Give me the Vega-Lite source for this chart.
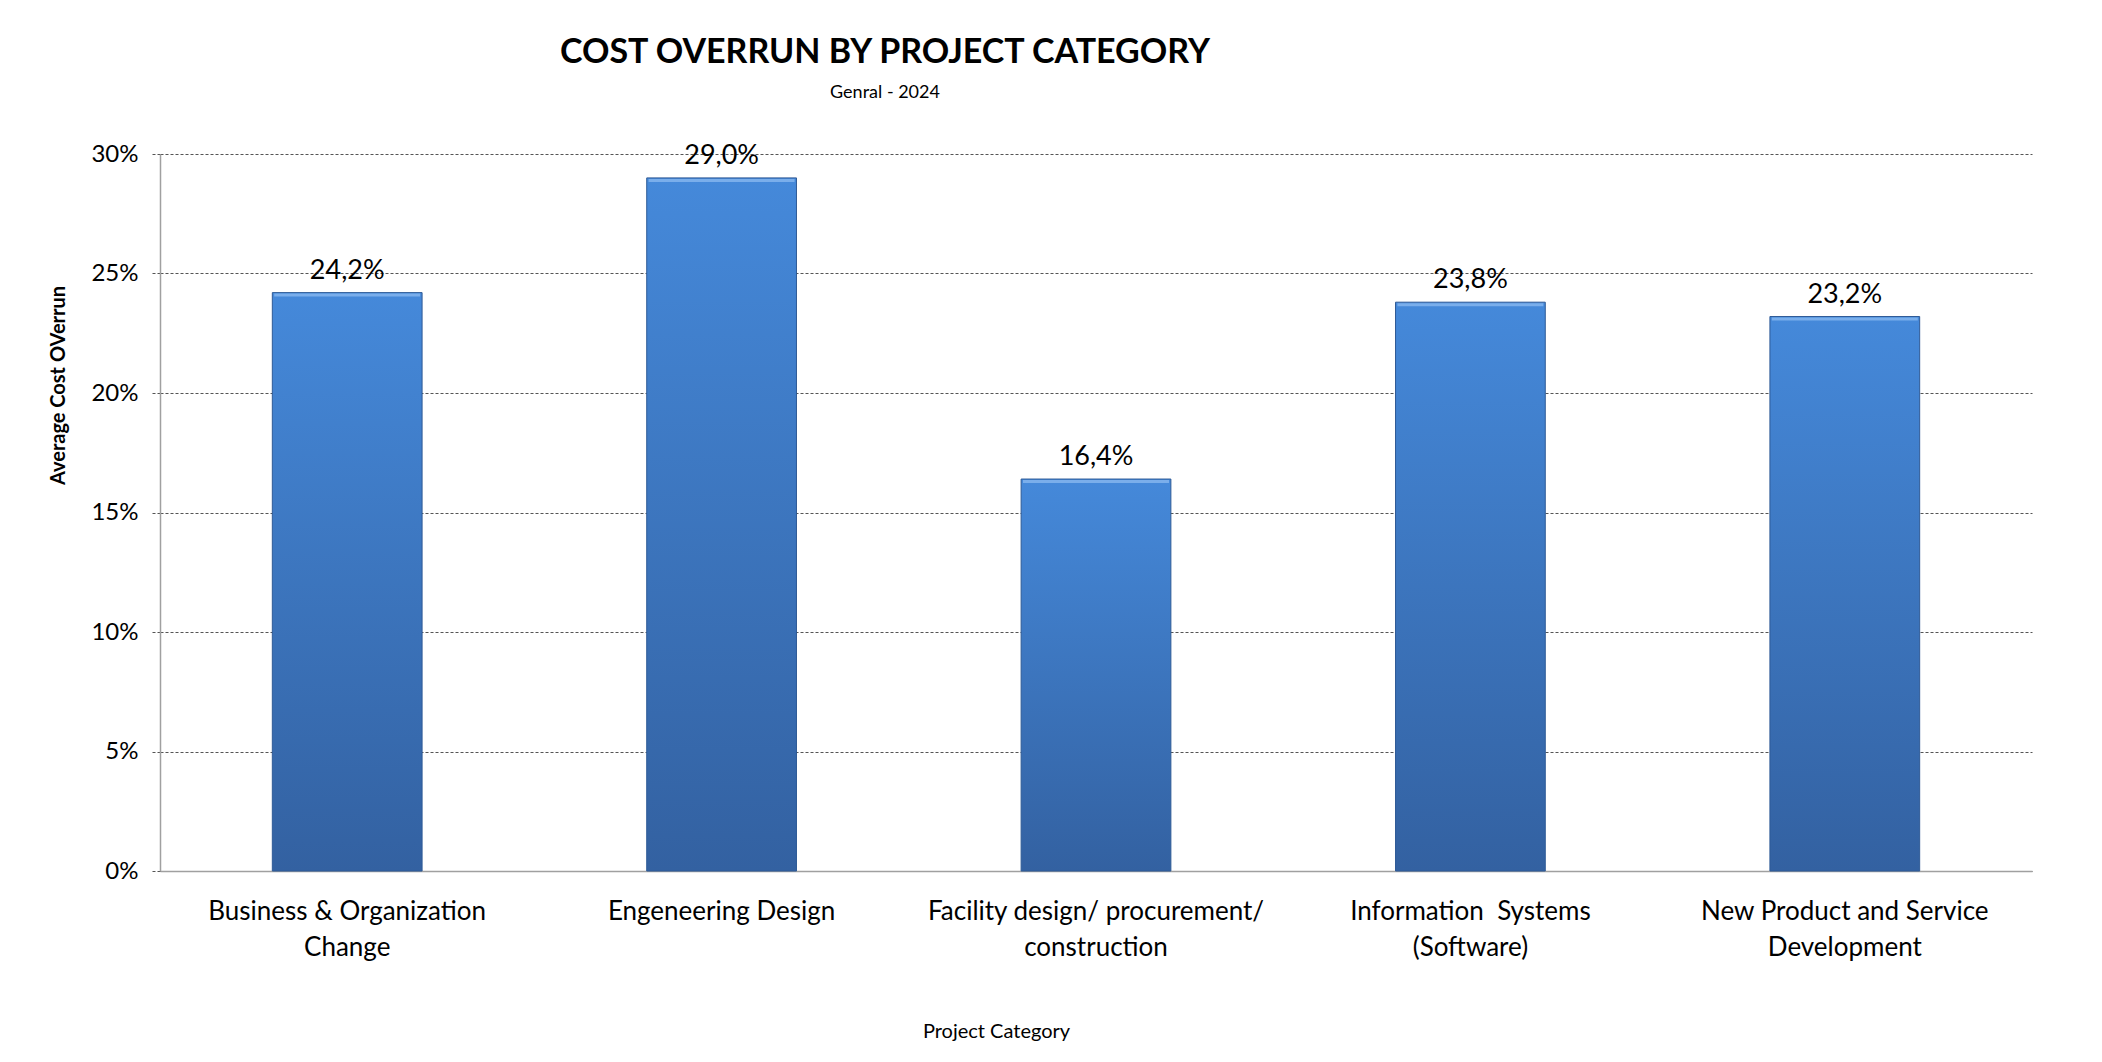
{
  "$schema": "https://vega.github.io/schema/vega-lite/v6.json",
  "width": 1872,
  "height": 717,
  "autosize": {"type": "none"},
  "padding": {"left": 160, "top": 154, "right": 70, "bottom": 191},
  "background": "#ffffff",
  "title": {
    "text": "COST OVERRUN BY PROJECT CATEGORY",
    "subtitle": "Genral - 2024",
    "anchor": "middle",
    "dx": -211,
    "font": "Lato, sans-serif",
    "fontSize": 34,
    "fontWeight": "bold",
    "color": "#000000",
    "subtitleFont": "Lato, sans-serif",
    "subtitleFontSize": 18,
    "subtitleColor": "#000000",
    "subtitlePadding": 14,
    "offset": 40
  },
  "data": {
    "values": [
      {"category": "Business & Organization Change", "overrun": 0.242},
      {"category": "Engeneering Design", "overrun": 0.290},
      {"category": "Facility design/ procurement/ construction", "overrun": 0.164},
      {"category": "Information  Systems (Software)", "overrun": 0.238},
      {"category": "New Product and Service Development", "overrun": 0.232}
    ]
  },
  "encoding": {
    "x": {
      "field": "category",
      "type": "nominal",
      "sort": null,
      "scale": {"paddingInner": 0.6, "paddingOuter": 0.3},
      "axis": {
        "title": "Project Category",
        "titleFont": "Lato, sans-serif",
        "titleFontSize": 20,
        "titleFontWeight": "normal",
        "titleColor": "#000000",
        "titleX": 836,
        "titleY": 160,
        "titleBaseline": "middle",
        "titleAnchor": "start",
        "titleAlign": "center",
        "labelAngle": 0,
        "labelFont": "Lato, sans-serif",
        "labelFontSize": 26,
        "labelColor": "#000000",
        "labelLineHeight": 36,
        "labelPadding": 27,
        "labelLimit": 0,
        "labelExpr": "datum.value == 'Business & Organization Change' ? ['Business & Organization', 'Change'] : datum.value == 'Facility design/ procurement/ construction' ? ['Facility design/ procurement/', 'construction'] : datum.value == 'Information  Systems (Software)' ? ['Information\u00a0 Systems', '(Software)'] : datum.value == 'New Product and Service Development' ? ['New Product and Service', 'Development'] : datum.value",
        "ticks": false,
        "domainColor": "#A0A0A0",
        "domainWidth": 1.5
      }
    },
    "y": {
      "field": "overrun",
      "type": "quantitative",
      "scale": {"domain": [0, 0.3], "nice": false},
      "axis": {
        "title": "Average Cost OVerrun",
        "titleFont": "Lato, sans-serif",
        "titleFontSize": 20,
        "titleFontWeight": "bold",
        "titleColor": "#000000",
        "titleX": -102,
        "titleY": 231,
        "titleBaseline": "middle",
        "titleAlign": "center",
        "titleAnchor": "start",
        "values": [0, 0.05, 0.1, 0.15, 0.2, 0.25, 0.3],
        "format": ".0%",
        "labelFont": "Lato, sans-serif",
        "labelFontSize": 24,
        "labelColor": "#000000",
        "labelPadding": 12,
        "tickSize": 10,
        "tickColor": "#555555",
        "tickDash": [3, 2],
        "domainColor": "#A0A0A0",
        "domainWidth": 1.5,
        "grid": true,
        "gridColor": "#555555",
        "gridDash": [3, 2],
        "gridWidth": 1
      }
    }
  },
  "layer": [
    {
      "mark": {
        "type": "bar",
        "color": {
          "gradient": "linear",
          "x1": 0, "y1": 0, "x2": 0, "y2": 1,
          "stops": [
            {"offset": 0, "color": "#4589DA"},
            {"offset": 1, "color": "#3361A1"}
          ]
        },
        "stroke": "#2E5A96",
        "strokeWidth": 1
      }
    },
    {
      "mark": {"type": "tick", "orient": "horizontal", "color": "#7FB3EC", "thickness": 3, "size": 146, "yOffset": 2.5, "opacity": 0.9}
    },
    {
      "mark": {
        "type": "text",
        "baseline": "alphabetic",
        "dy": -14,
        "font": "Lato, sans-serif",
        "fontSize": 27,
        "color": "#000000"
      },
      "encoding": {
        "text": {"field": "overrun", "type": "quantitative", "format": ".1%"}
      }
    }
  ],
  "config": {
    "view": {"stroke": null},
    "locale": {
      "number": {"decimal": ",", "thousands": ".", "grouping": [3], "currency": ["", " €"]}
    }
  }
}
